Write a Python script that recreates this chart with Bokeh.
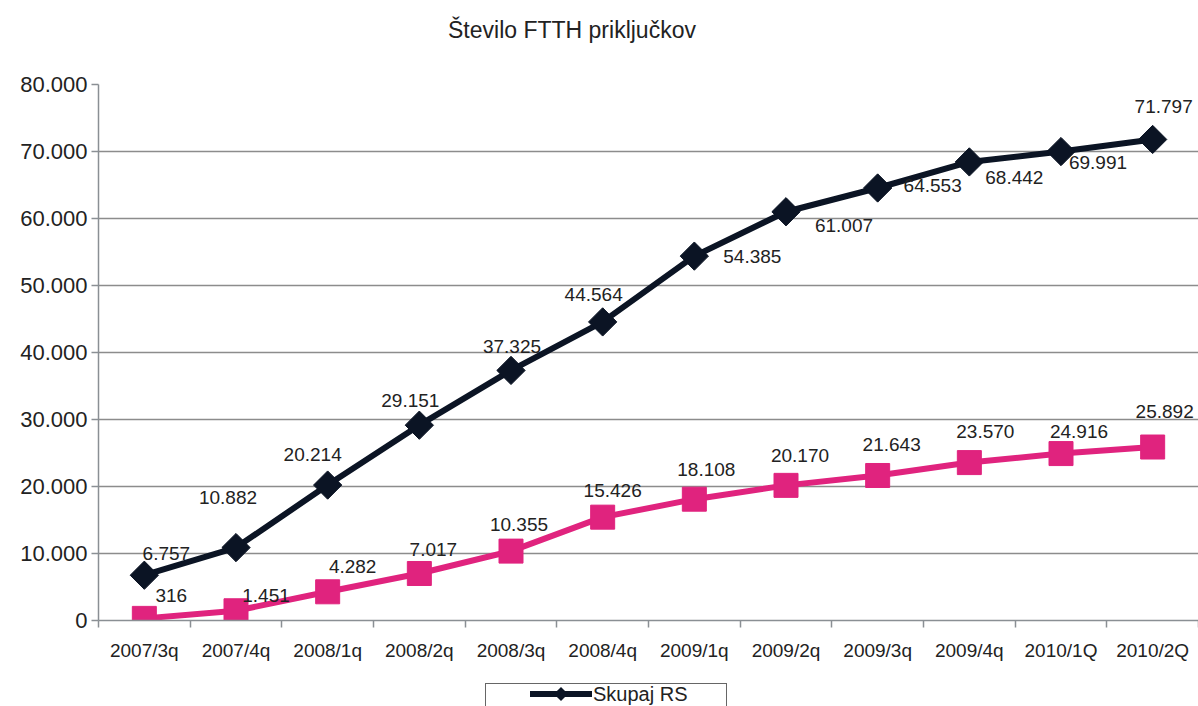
import math
from bokeh.plotting import figure
from bokeh.layouts import column
from bokeh.models import ColumnDataSource, FixedTicker, Range1d, Div
from bokeh.core.properties import value
from bokeh.embed import file_html
from bokeh.resources import INLINE

categories = ["2007/3q", "2007/4q", "2008/1q", "2008/2q", "2008/3q", "2008/4q",
              "2009/1q", "2009/2q", "2009/3q", "2009/4q", "2010/1Q", "2010/2Q"]
skupaj_rs = [6757, 10882, 20214, 29151, 37325, 44564, 54385, 61007, 64553, 68442, 69991, 71797]
druga_serija = [316, 1451, 4282, 7017, 10355, 15426, 18108, 20170, 21643, 23570, 24916, 25892]
y_ticks = [0, 10000, 20000, 30000, 40000, 50000, 60000, 70000, 80000]
y_tick_labels = ["0", "10.000", "20.000", "30.000", "40.000", "50.000", "60.000", "70.000", "80.000"]
title_text = "Število FTTH priključkov"
legend_label = "Skupaj RS"

# label placement (style, pixels)
black_dx = [22, -8, -15, -9, 1, -9, 58, 58, 55, 45, 37, 11]
black_dy = [-22, -50, -31, -25, -24, -27, 0, 14, -2, 16, 11, -33]
pink_dx = [27, 30, 25, 14, 8, 10, 12, 14, 14, 16, 18, 12]
pink_dy = [-23, -15, -25, -24, -27, -27, -30, -30, -31, -31, -22, -36]

FONT = "Liberation Sans"
TXT = "#222222"
AX = "#8a8f94"
BLACK = "#0b1424"
PINK = "#e0237e"

def fmt(v):
    return f"{v:,}".replace(",", ".")

xs = list(range(len(categories)))

src_b = ColumnDataSource(dict(x=xs, y=skupaj_rs, lab=[fmt(v) for v in skupaj_rs],
                              dx=black_dx, dy=black_dy))
src_p = ColumnDataSource(dict(x=xs, y=druga_serija, lab=[fmt(v) for v in druga_serija],
                              dx=pink_dx, dy=pink_dy))

title_html = (
    f'<div style="margin-left:448px;padding-top:17px;font-family:\'{FONT}\';'
    f'font-size:23px;line-height:26px;color:{TXT};white-space:nowrap;">{title_text}</div>'
)
title_div = Div(text=title_html, width=1198, height=50,
                styles={"overflow": "hidden", "margin": "0", "padding": "0"})

p = figure(width=1198, height=633, output_backend="svg", toolbar_location=None,
           x_range=Range1d(-0.5, len(categories) - 0.5), y_range=Range1d(0, 80000),
           min_border_left=98, min_border_right=0, min_border_top=34, min_border_bottom=63,
           title=None)
p.outline_line_color = None
p.background_fill_color = "white"
p.border_fill_color = "white"

# x axis with ticks at category boundaries
xt = FixedTicker(ticks=xs, minor_ticks=[i - 0.5 for i in range(len(categories) + 1)])
p.xaxis.ticker = xt
p.xaxis.major_label_overrides = {i: c for i, c in enumerate(categories)}
p.xaxis.major_tick_out = 0
p.xaxis.major_tick_in = 0
p.xaxis.minor_tick_out = 7
p.xaxis.minor_tick_in = 0
p.xaxis.minor_tick_line_color = AX
p.xaxis.minor_tick_line_width = 1.5
p.xaxis.axis_line_color = AX
p.xaxis.axis_line_width = 1.5
p.xaxis.major_label_text_font = FONT
p.xaxis.major_label_text_font_size = "19px"
p.xaxis.major_label_text_color = TXT
p.xaxis.major_label_standoff = 12

p.yaxis.ticker = FixedTicker(ticks=y_ticks)
p.yaxis.major_label_overrides = {t: l for t, l in zip(y_ticks, y_tick_labels)}
p.yaxis.major_tick_out = 7
p.yaxis.major_tick_in = 0
p.yaxis.minor_tick_out = 0
p.yaxis.minor_tick_in = 0
p.yaxis.major_tick_line_color = AX
p.yaxis.major_tick_line_width = 1.5
p.yaxis.axis_line_color = AX
p.yaxis.axis_line_width = 1.5
p.yaxis.major_label_text_font = FONT
p.yaxis.major_label_text_font_size = "22px"
p.yaxis.major_label_text_color = TXT
p.yaxis.major_label_standoff = 4

p.xgrid.grid_line_color = None
p.ygrid.ticker = FixedTicker(ticks=y_ticks)
p.ygrid.grid_line_color = "#8c8c8c"
p.ygrid.grid_line_width = 1.5

p.line("x", "y", source=src_b, line_color=BLACK, line_width=6)
p.scatter("x", "y", source=src_b, marker="square", angle=math.pi / 4, size=20,
          fill_color=BLACK, line_color=BLACK)
p.line("x", "y", source=src_p, line_color=PINK, line_width=6)
p.scatter("x", "y", source=src_p, marker="square", size=24,
          fill_color=PINK, line_color=PINK)

for src in (src_b, src_p):
    p.text("x", "y", text="lab", source=src, x_offset="dx", y_offset="dy",
           text_align="center", text_baseline="middle",
           text_font=value(FONT), text_font_size="19px", text_color=TXT)

legend_html = (
    f'<div style="margin-left:485px;width:242px;height:40px;box-sizing:border-box;'
    f'border:1.5px solid #666666;background:white;display:flex;align-items:flex-start;'
    f'padding-left:44px;padding-top:0px;font-family:\'{FONT}\';font-size:20px;color:{TXT};">'
    f'<svg width="62" height="20" style="flex:none;margin-top:0px">'
    f'<line x1="0" y1="10" x2="62" y2="10" stroke="{BLACK}" stroke-width="6" stroke-linecap="round"/>'
    f'<rect x="26" y="5" width="10" height="10" fill="{BLACK}" transform="rotate(45 31 10)"/>'
    f'</svg><span style="line-height:20px;margin-left:1px">{legend_label}</span></div>'
)
legend_div = Div(text=legend_html, width=1198, height=23,
                 styles={"overflow": "hidden", "margin": "0", "padding": "0"})

layout = column(title_div, p, legend_div, spacing=0)

open("out.html", "w").write(file_html(layout, INLINE))
